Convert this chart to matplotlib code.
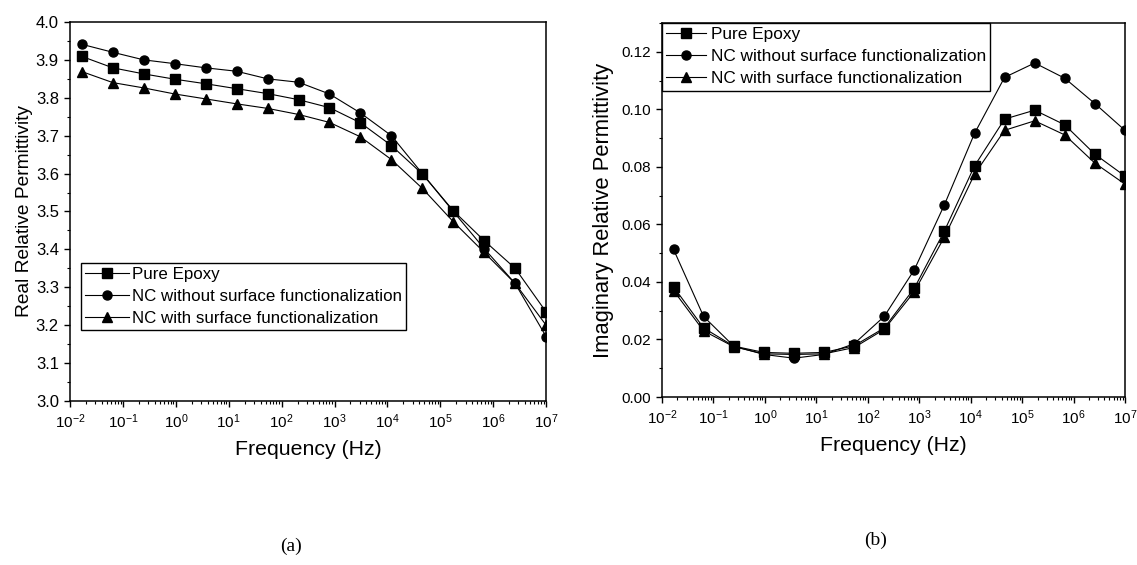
import matplotlib
matplotlib.use("Agg")
import matplotlib.pyplot as plt
from matplotlib.ticker import AutoMinorLocator, LogLocator, NullFormatter, MultipleLocator

plt.rcParams['font.family'] = ['Liberation Sans', 'DejaVu Sans']
plt.rcParams['mathtext.fontset'] = 'custom'
plt.rcParams['mathtext.rm'] = 'Liberation Sans'
plt.rcParams['mathtext.it'] = 'Liberation Sans:italic'
plt.rcParams['axes.unicode_minus'] = False

# measurement frequencies (Hz), high to low
freq = [1.0e7, 2.6e6, 6.76e5, 1.76e5, 4.57e4, 1.19e4, 3.09e3, 803,
        209, 54.3, 14.1, 3.67, 0.954, 0.248, 0.0645, 0.0168]

# real part
real_epoxy = [3.235, 3.35, 3.423, 3.502, 3.599, 3.674, 3.734, 3.774,
              3.795, 3.811, 3.824, 3.837, 3.849, 3.863, 3.879, 3.909]
real_nc_plain = [3.17, 3.31, 3.402, 3.50, 3.60, 3.70, 3.76, 3.81,
                 3.841, 3.85, 3.87, 3.879, 3.89, 3.90, 3.92, 3.941]
real_nc_func = [3.20, 3.31, 3.392, 3.473, 3.561, 3.637, 3.697, 3.735,
                3.756, 3.772, 3.784, 3.797, 3.81, 3.826, 3.84, 3.869]

# imaginary part
imag_epoxy = [0.0768, 0.0844, 0.0946, 0.0997, 0.0966, 0.0803, 0.0577, 0.0378,
              0.024, 0.0178, 0.0155, 0.0152, 0.0155, 0.0177, 0.024, 0.0383]
imag_nc_plain = [0.0927, 0.102, 0.1108, 0.1161, 0.1111, 0.0916, 0.0668, 0.0442,
                 0.028, 0.0185, 0.0148, 0.0135, 0.0148, 0.0177, 0.028, 0.0513]
imag_nc_func = [0.074, 0.0813, 0.0911, 0.096, 0.0927, 0.0774, 0.0556, 0.0366,
                0.0235, 0.0172, 0.015, 0.0148, 0.015, 0.0175, 0.023, 0.037]

labels = ["Pure Epoxy", "NC without surface functionalization",
          "NC with surface functionalization"]
markers = ["s", "o", "^"]

fig = plt.figure(figsize=(11.37, 5.65), dpi=100)
ax1 = fig.add_axes([0.0616, 0.2903, 0.4187, 0.6708])
ax2 = fig.add_axes([0.5822, 0.2973, 0.4072, 0.6620])


def style_axis(ax, ylabelsize):
    ax.set_xscale("log")
    ax.set_xlim(1e-2, 1e7)
    ax.xaxis.set_major_locator(LogLocator(base=10, numticks=20))
    ax.xaxis.set_minor_locator(LogLocator(base=10, subs=range(2, 10), numticks=100))
    ax.xaxis.set_minor_formatter(NullFormatter())
    ax.yaxis.set_minor_locator(AutoMinorLocator(2))
    ax.tick_params(which="major", direction="out", length=4.5, width=1,
                   top=False, right=False)
    ax.tick_params(axis="x", which="major", labelsize=11)
    ax.tick_params(axis="y", which="major", labelsize=ylabelsize)
    ax.tick_params(which="minor", direction="out", length=2.5, width=0.8,
                   top=False, right=False)
    for s in ax.spines.values():
        s.set_linewidth(1.1)
    ax.set_xlabel("Frequency (Hz)", fontsize=15.3, labelpad=7)


for ys, m, lab in zip([real_epoxy, real_nc_plain, real_nc_func], markers, labels):
    ax1.plot(freq, ys, color="black", lw=0.8, marker=m, ms=6.5, label=lab)
style_axis(ax1, 12)
ax1.set_ylim(3.0, 4.0)
ax1.yaxis.set_major_locator(MultipleLocator(0.1))
ax1.set_ylabel("Real Relative Permittivity", fontsize=13.8, labelpad=2)
leg1 = ax1.legend(loc="upper left", bbox_to_anchor=(0.023, 0.364), borderaxespad=0,
                  fontsize=12.2, fancybox=False, edgecolor="black", framealpha=1,
                  handlelength=2.6, handletextpad=0.15, labelspacing=0.4,
                  borderpad=0.25)
leg1.get_frame().set_linewidth(1)

for ys, m, lab in zip([imag_epoxy, imag_nc_plain, imag_nc_func], markers, labels):
    ax2.plot(freq, ys, color="black", lw=0.8, marker=m, ms=6.5, label=lab)
style_axis(ax2, 11)
ax2.set_ylim(0.0, 0.13)
ax2.yaxis.set_major_locator(MultipleLocator(0.02))
ax2.yaxis.set_major_formatter(plt.FormatStrFormatter("%.2f"))
ax2.set_ylabel("Imaginary Relative Permittivity", fontsize=15.8, labelpad=5)
leg2 = ax2.legend(loc="upper left", bbox_to_anchor=(0, 1), borderaxespad=0,
                  fontsize=12.4, fancybox=False, edgecolor="black", framealpha=1,
                  handlelength=2.3, handletextpad=0.28, labelspacing=0.4,
                  borderpad=0.25)
leg2.get_frame().set_linewidth(1)

fig.text(291 / 1137, 1 - 546 / 565, "(a)", fontsize=14, family="Liberation Serif",
         ha="center", va="center")
fig.text(876 / 1137, 1 - 540 / 565, "(b)", fontsize=14, family="Liberation Serif",
         ha="center", va="center")

fig.savefig("out.png", dpi=100)
